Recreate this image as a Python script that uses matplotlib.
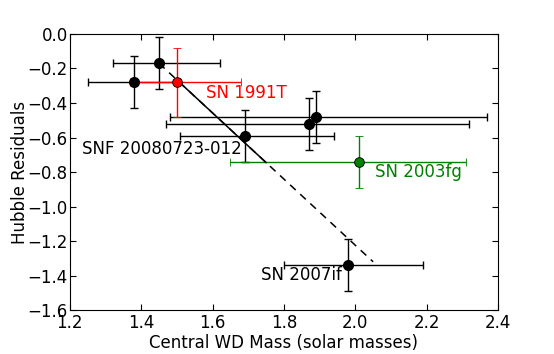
import numpy as np
import matplotlib
matplotlib.use('Agg')
import matplotlib.pyplot as plt

# black points
mass = [1.38, 1.45, 1.69, 1.87, 1.89, 1.98]
resid = [-0.28, -0.17, -0.59, -0.52, -0.48, -1.34]
mass_lo = [0.13, 0.13, 0.18, 0.40, 0.41, 0.18]
mass_hi = [0.13, 0.17, 0.25, 0.45, 0.48, 0.21]
resid_err = [0.15, 0.15, 0.15, 0.15, 0.15, 0.15]

# SN 1991T (red)
mass_91T = [1.50]
resid_91T = [-0.28]
mass_91T_lo = [0.13]
mass_91T_hi = [0.18]
resid_91T_err = [0.20]

# SN 2003fg (green)
mass_03fg = [2.01]
resid_03fg = [-0.74]
mass_03fg_lo = [0.36]
mass_03fg_hi = [0.30]
resid_03fg_err = [0.15]

# trend line: dashed over the full range, solid part on top
line_x = [1.45, 2.05]
line_y = [-0.17, -1.32]
solid_x = [1.50, 1.75]
solid_y = [-0.266, -0.745]

plt.rcParams.update({'font.size': 12})
fig = plt.figure(figsize=(5.54, 3.54), dpi=100)
ax = fig.add_axes([0.126, 0.124, 0.773, 0.780])

ax.errorbar(mass, resid, xerr=[mass_lo, mass_hi], yerr=resid_err, fmt='o', color='k',
            ms=7, mec='k', capsize=3, lw=1, mew=1)
ax.errorbar(mass_91T, resid_91T, xerr=[mass_91T_lo, mass_91T_hi], yerr=resid_91T_err, fmt='o',
            color='red', ms=7, mec='k', mew=0.6, capsize=3, lw=1)
ax.errorbar(mass_03fg, resid_03fg, xerr=[mass_03fg_lo, mass_03fg_hi], yerr=resid_03fg_err, fmt='o',
            color='green', ms=7, mec='k', mew=0.6, capsize=3, lw=1)

ax.plot(line_x, line_y, 'k--', lw=1.1, dashes=(5, 4))
ax.plot(solid_x, solid_y, 'k-', lw=1.1)

ax.text(1.583, -0.369, 'SN 1991T', color='red', va='baseline', ha='left')
ax.text(1.233, -0.697, 'SNF 20080723-012', color='k', va='baseline', ha='left')
ax.text(2.055, -0.827, 'SN 2003fg', color='green', va='baseline', ha='left')
ax.text(1.737, -1.428, 'SN 2007if', color='k', va='baseline', ha='left')

ax.set_xlim(1.2, 2.4)
ax.set_ylim(-1.6, 0.0)
ax.set_xticks(np.arange(1.2, 2.41, 0.2))
ax.set_yticks(np.arange(-1.6, 0.01, 0.2))
ax.tick_params(direction='in', top=True, right=True, length=4)
ax.tick_params(axis='x', pad=2.5)
ax.tick_params(axis='y', pad=1.5)
ax.set_xlabel('Central WD Mass (solar masses)', labelpad=2)
ax.set_ylabel('Hubble Residuals', labelpad=-1)

fig.savefig('out.png', dpi=100)
